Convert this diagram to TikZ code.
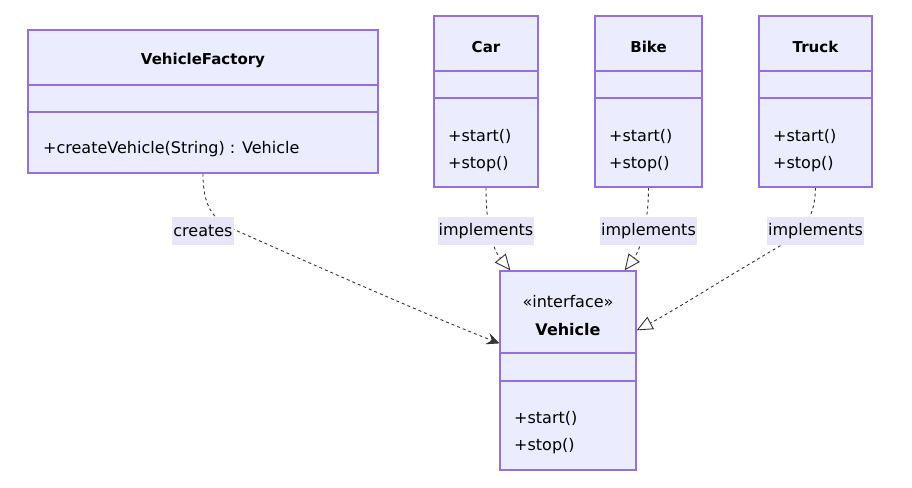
\documentclass[tikz,border=0pt]{standalone}
\usepackage{fontspec}
\setmainfont{DejaVu Sans}
\usetikzlibrary{arrows.meta,calc,backgrounds}
\definecolor{boxfill}{HTML}{ECECFF}
\definecolor{boxline}{HTML}{9370DB}
\definecolor{edgec}{HTML}{333333}
\definecolor{lblfill}{HTML}{E6E6F8}
\begin{document}
\begin{tikzpicture}[x=1pt,y=-1pt,
  cls/.style={draw=boxline, fill=boxfill, line width=1.2pt, inner sep=0pt},
  divider/.style={draw=boxline, line width=1.2pt},
  ttl/.style={font=\fontsize{15}{18}\selectfont\bfseries, inner sep=0pt},
  mth/.style={font=\fontsize{16}{19}\selectfont, anchor=west, inner sep=0pt},
  lbl/.style={fill=lblfill, font=\fontsize{16}{19}\selectfont, inner xsep=1pt, inner ysep=0pt, minimum height=28pt},
  dep/.style={draw=edgec, dash pattern=on 3pt off 3pt, line width=0.9pt},
  real/.style={dep, -{Triangle[open, length=16pt, width=14pt, line width=0.9pt, sep=0pt]}},
  uses/.style={dep, -{Stealth[length=13pt, width=12pt, inset=5pt]}}
]
\useasboundingbox (0,0) rectangle (912,487);

% VehicleFactory
\node[cls, minimum width=350pt, minimum height=143pt] (vf) at (203,101.5) {};
\draw[divider] (28,85) -- (378,85) (28,112) -- (378,112);
\node[ttl] (vft) at (203,60) {VehicleFactory};
\node[mth] (vfm) at (43,149) {+createVehicle(String) : Vehicle};

% Car
\node[cls, minimum width=104pt, minimum height=171pt] (car) at (486,101.5) {};
\draw[divider] (434,71) -- (538,71) (434,98) -- (538,98);
\node[ttl] (cart) at (486,47) {Car};
\node[mth] (carm1) at (448,136) {+start()};
\node[mth] (carm2) at (448,164) {+stop()};

% Bike
\node[cls, minimum width=107pt, minimum height=171pt] (bike) at (648.5,101.5) {};
\draw[divider] (595,71) -- (702,71) (595,98) -- (702,98);
\node[ttl] (biket) at (648.5,47) {Bike};
\node[mth] (bikem1) at (609,136) {+start()};
\node[mth] (bikem2) at (609,164) {+stop()};

% Truck
\node[cls, minimum width=113pt, minimum height=171pt] (truck) at (815.5,101.5) {};
\draw[divider] (759,71) -- (872,71) (759,98) -- (872,98);
\node[ttl] (truckt) at (815.5,47) {Truck};
\node[mth] (truckm1) at (773,136) {+start()};
\node[mth] (truckm2) at (773,164) {+stop()};

% Vehicle interface
\node[cls, minimum width=136pt, minimum height=199pt] (veh) at (568,370.5) {};
\draw[divider] (500,353) -- (636,353) (500,381) -- (636,381);
\node[font=\fontsize{16}{19}\selectfont, inner sep=0pt] (vehs) at (568,302) {«interface»};
\node[ttl, font=\fontsize{16}{19}\selectfont\bfseries] (veht) at (568,330) {Vehicle};
\node[mth] (vehm1) at (514,418) {+start()};
\node[mth] (vehm2) at (514,446) {+stop()};

% edge labels
\node[lbl] (lcr) at (203,231) {creates};
\node[lbl] (lcar) at (486,231) {implements};
\node[lbl] (lbike) at (648.5,231) {implements};
\node[lbl] (ltruck) at (815.5,231) {implements};

\begin{scope}[on background layer]
\draw[uses] (vf.south) .. controls (203,205) and (212,220) .. (235,230)
   .. controls (330,272) and (420,312) .. ($(veh.north west)+(0,73)$);
\draw[real] (car.south) .. controls (486,225) and (492,248) .. ($(veh.north west)+(11,0)$);
\draw[real] (bike.south) .. controls (648.5,225) and (640,250) .. ($(veh.north east)+(-12,0)$);
\draw[real] (truck.south) .. controls (815,215) and (805,232) .. (785,243)
   .. controls (730,275) and (675,310) .. ($(veh.north east)+(0,60)$);
\end{scope}
\end{tikzpicture}
\end{document}
